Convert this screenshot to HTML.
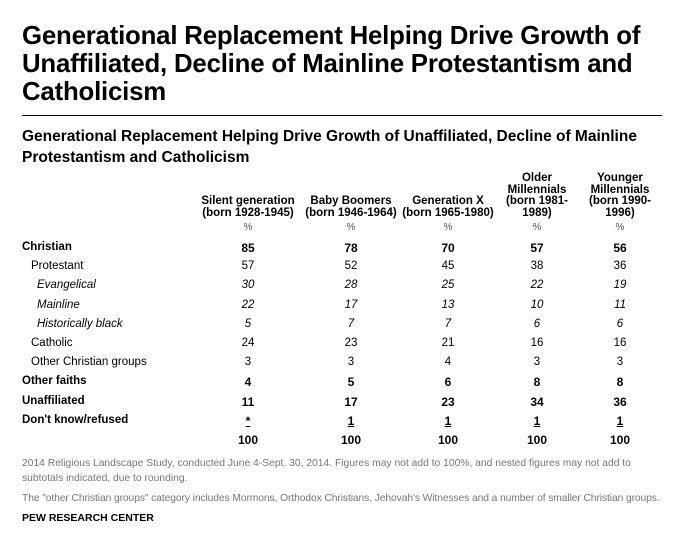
<!DOCTYPE html>
<html><head><meta charset="utf-8">
<style>
body{margin:0;width:691px;height:536px;background:#fff;font-family:"Liberation Sans",sans-serif;color:#000;position:relative;overflow:hidden}
.a{position:absolute;white-space:nowrap}
#title{left:22px;top:22px;font-family:"Liberation Sans",sans-serif;font-weight:bold;font-size:25.8px;line-height:28px;white-space:normal;width:670px;letter-spacing:-0.2px}
#rule{left:22px;top:115px;width:640px;height:1px;background:#000}
#sub{left:22px;top:126px;font-weight:bold;font-size:15.5px;line-height:21px;white-space:normal;width:650px}
.hd{font-weight:bold;font-size:11.5px;line-height:11.5px;text-align:center;transform:translateX(-50%)}
.c{font-size:11.5px;transform:translateX(-50%);text-align:center}
.lbl{font-size:11.5px}
.foot{font-size:10.3px;color:#777;left:22px;white-space:normal;width:640px;line-height:15px}
</style></head><body>
<div class="a" id="title">Generational Replacement Helping Drive Growth of Unaffiliated, Decline of Mainline Protestantism and Catholicism</div>
<div class="a" id="rule"></div>
<div class="a" id="sub">Generational Replacement Helping Drive Growth of Unaffiliated, Decline of Mainline Protestantism and Catholicism</div>
<div id="tbl"></div>
<div class="a foot" style="top:456px">2014 Religious Landscape Study, conducted June 4-Sept. 30, 2014. Figures may not add to 100%, and nested figures may not add to subtotals indicated, due to rounding.</div>
<div class="a foot" style="top:491px;white-space:nowrap;letter-spacing:-0.1px">The "other Christian groups" category includes Mormons, Orthodox Christians, Jehovah's Witnesses and a number of smaller Christian groups.</div>
<div class="a" style="left:22px;top:512px;font-size:10.5px;font-weight:bold">PEW RESEARCH CENTER</div>
<script>
const columns=[["Silent generation","(born 1928-1945)"],["Baby Boomers","(born 1946-1964)"],["Generation X","(born 1965-1980)"],["Older","Millennials","(born 1981-","1989)"],["Younger","Millennials","(born 1990-","1996)"]];
const rowLabels=["Christian","Protestant","Evangelical","Mainline","Historically black","Catholic","Other Christian groups","Other faiths","Unaffiliated","Don't know/refused",""];
const rowStyles=["b","i1","i2","i2","i2","i1","i1","b","b","b","b"];
const silent=["85","57","30","22","5","24","3","4","11","*","100"];
const boomers=["78","52","28","17","7","23","3","5","17","1","100"];
const genx=["70","45","25","13","7","21","4","6","23","1","100"];
const olderMil=["57","38","22","10","6","16","3","8","34","1","100"];
const youngerMil=["56","36","19","11","6","16","3","8","36","1","100"];
const series=[silent,boomers,genx,olderMil,youngerMil];
const colX=[248,351,448,537,620];
const tbl=document.getElementById('tbl');
columns.forEach((c,i)=>{
  const d=document.createElement('div');
  d.className='a hd';
  
  
  d.style.left=colX[i]+'px';
  d.style.top=(219-c.length*11.5)+'px';
  d.innerHTML=c.join('<br>');
  tbl.appendChild(d);
  const p=document.createElement('div');
  p.className='a c';
  
  
  p.style.left=colX[i]+'px';p.style.top='222px';p.style.fontSize='10px';p.style.color='#555';
  p.textContent='%';
  tbl.appendChild(p);
});
const y0=241,dy=19.2;
rowLabels.forEach((l,r)=>{
  const st=rowStyles[r];
  if(l){
    const d=document.createElement('div');
    d.className='a lbl';
    
    
    d.style.top=(y0+r*dy)+'px';
    d.style.left=(st=='b'?22:st=='i1'?31:37)+'px';
    if(st=='b')d.style.fontWeight='bold';
    if(st=='i2')d.style.fontStyle='italic';
    d.textContent=l;
    tbl.appendChild(d);
  }
  series.forEach((s,i)=>{
    const d=document.createElement('div');
    d.className='a c';
    
    
    d.style.left=colX[i]+'px';
    d.style.top=(y0+r*dy)+'px';
    if(st=='b'){d.style.fontWeight='bold';d.style.fontSize='12px';}
    if(st=='i2')d.style.fontStyle='italic';
    if(r==9)d.style.textDecoration='underline';
    d.textContent=s[r];
    tbl.appendChild(d);
  });
});
</script>
</body></html>
